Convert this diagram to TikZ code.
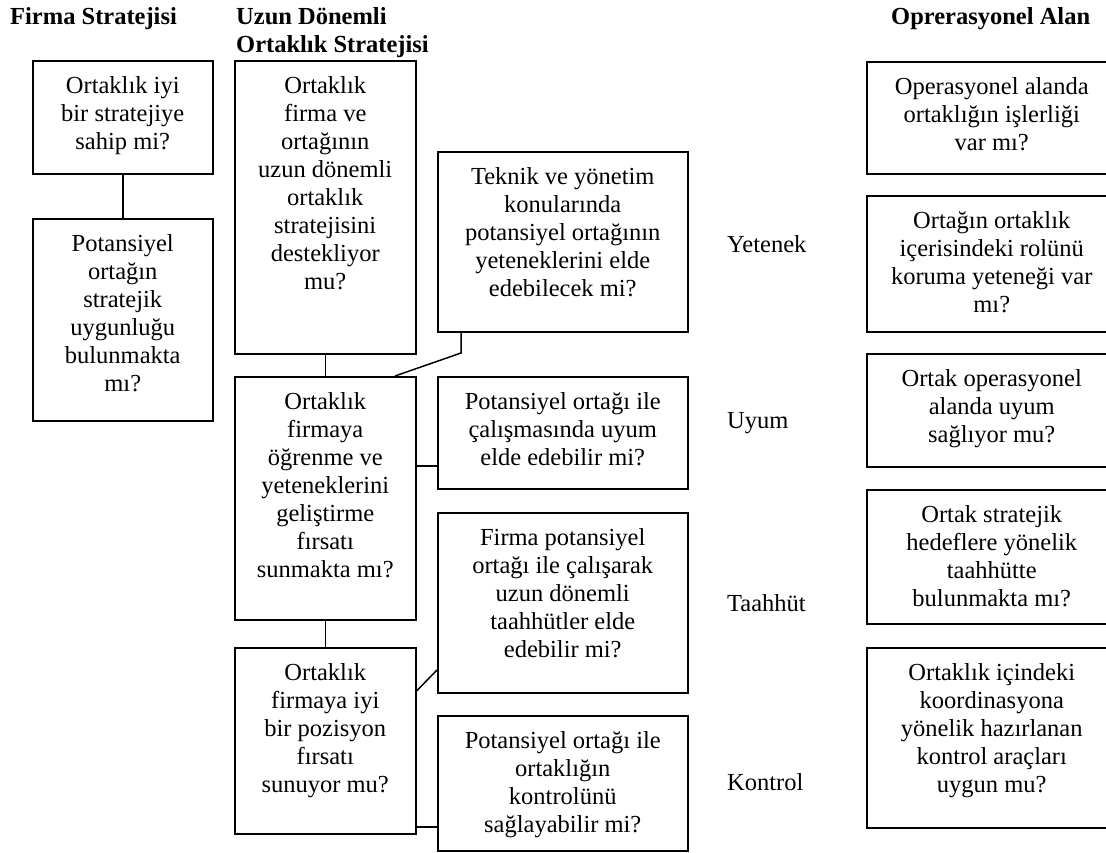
\documentclass[tikz,border=0pt]{standalone}
\usepackage{fontspec}
\setmainfont{Liberation Serif}
\usetikzlibrary{calc}
\tikzset{
 qb/.style={draw, line width=1.5pt, rectangle, inner sep=0pt, anchor=north west},
 qt/.style={anchor=north, inner sep=0pt, align=center, font=\fontsize{24.5pt}{28pt}\selectfont},
 hd/.style={anchor=north west, inner sep=0pt, align=left, font=\fontsize{24.5pt}{28pt}\selectfont\bfseries},
 lb/.style={anchor=west, inner sep=0pt, font=\fontsize{24.5pt}{28pt}\selectfont},
 ln/.style={line width=1.5pt},
}
\newcommand\qbox[7]{%
 \node[qb, minimum width={(#4-#2)*1pt}, minimum height={(#5-#3)*1pt}] (#1) at (#2pt,-#3pt) {};
 \node[qt] (#1t) at ($(#1.north)+(0,{-(#6-19.6)*1pt})$) {\strut #7};
}
\begin{document}
\begin{tikzpicture}
\useasboundingbox (0,0) rectangle (1106pt,-852pt);
% headers
\node[hd] (h1) at (10pt,-4.4pt) {\strut Firma Stratejisi};
\node[hd] (h2) at (236pt,-4.4pt) {\strut Uzun Dönemli\\Ortaklık Stratejisi};
\node[hd] (h3) at (891pt,-4.4pt) {\strut Oprerasyonel Alan};
% column A
\qbox{A1}{32}{60}{212}{173}{33}{Ortaklık iyi\\bir stratejiye\\sahip mi?}
\qbox{A2}{32}{218}{212}{420}{33}{Potansiyel\\ortağın\\stratejik\\uygunluğu\\bulunmakta\\mı?}
% column B
\qbox{B1}{234}{60}{415}{353}{33}{Ortaklık\\firma ve\\ortağının\\uzun dönemli\\ortaklık\\stratejisini\\destekliyor\\mu?}
\qbox{B2}{234}{376}{415}{619}{33}{Ortaklık\\firmaya\\öğrenme ve\\yeteneklerini\\geliştirme\\fırsatı\\sunmakta mı?}
\qbox{B3}{234}{647}{415}{833}{33}{Ortaklık\\firmaya iyi\\bir pozisyon\\fırsatı\\sunuyor mu?}
% column C
\qbox{C1}{437}{151}{687}{331}{33}{Teknik ve yönetim\\konularında\\potansiyel ortağının\\yeteneklerini elde\\edebilecek mi?}
\qbox{C2}{437}{376}{687}{488}{33}{Potansiyel ortağı ile\\çalışmasında uyum\\elde edebilir mi?}
\qbox{C3}{437}{512}{687}{692}{33}{Firma potansiyel\\ortağı ile çalışarak\\uzun dönemli\\taahhütler elde\\edebilir mi?}
\qbox{C4}{437}{715}{687}{850}{33}{Potansiyel ortağı ile\\ortaklığın\\kontrolünü\\sağlayabilir mi?}
% right column
\qbox{R1}{866}{61}{1116}{173}{33}{Operasyonel alanda\\ortaklığın işlerliği\\var mı?}
\qbox{R2}{866}{195}{1116}{331}{33}{Ortağın ortaklık\\içerisindeki rolünü\\koruma yeteneği var\\mı?}
\qbox{R3}{866}{353}{1116}{466}{33}{Ortak operasyonel\\alanda uyum\\sağlıyor mu?}
\qbox{R4}{866}{489}{1116}{623}{33}{Ortak stratejik\\hedeflere yönelik\\taahhütte\\bulunmakta mı?}
\qbox{R5}{866}{647}{1116}{827}{33}{Ortaklık içindeki\\koordinasyona\\yönelik hazırlanan\\kontrol araçları\\uygun mu?}
% labels
\node[lb] (yet) at (727pt,-244pt) {Yetenek};
\node[lb] (uyu) at (727pt,-423pt) {Uyum};
\node[lb] (taa) at (727pt,-603pt) {Taahhüt};
\node[lb] (kon) at (727pt,-782pt) {Kontrol};
% connectors
\draw[ln] (A1) -- (A2);
\draw[ln] (B1) -- (B2);
\draw[ln] (B2) -- (B3);
\coordinate (k1) at (461pt,-353pt);
\coordinate (k2) at (395pt,0pt);
\draw[ln] (k1 |- C1.south) -- (k1) -- (k2 |- B2.north);
\coordinate (y1) at (0,-466pt);
\coordinate (y2) at (0,-691pt);
\coordinate (y3) at (0,-670pt);
\coordinate (y4) at (0,-827pt);
\draw[ln] (B2.east |- y1) -- (C2.west |- y1);
\draw[ln] (B3.east |- y2) -- (C3.west |- y3);
\draw[ln] (B3.east |- y4) -- (C4.west |- y4);
\end{tikzpicture}
\end{document}
